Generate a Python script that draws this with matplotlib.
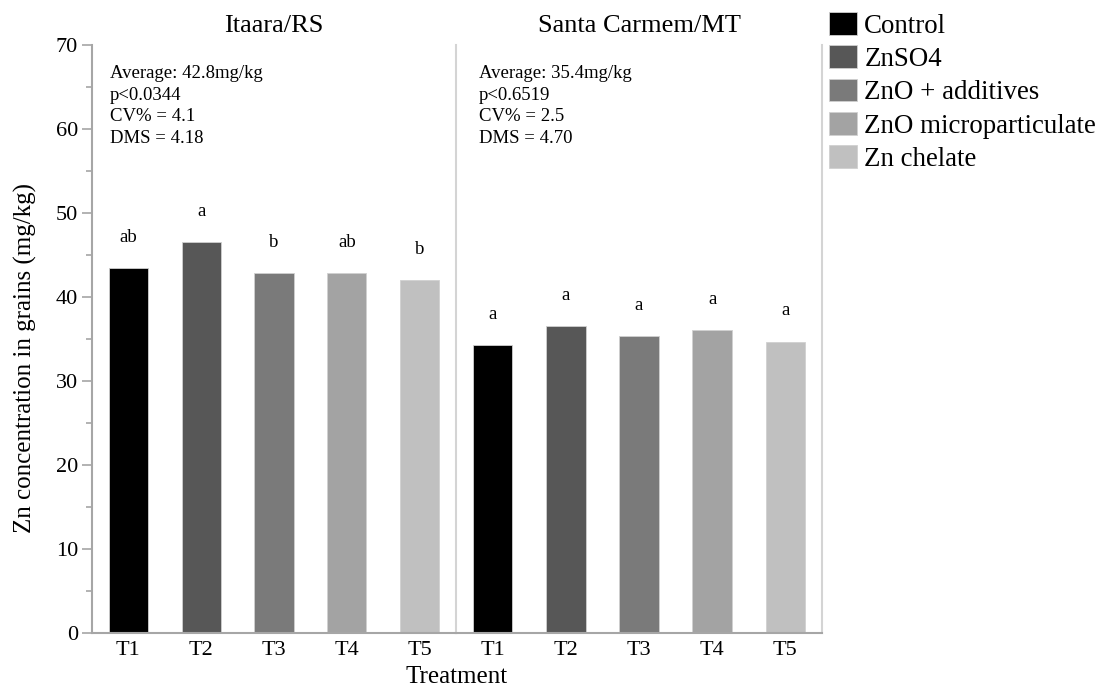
import matplotlib
matplotlib.use("Agg")
import matplotlib.pyplot as plt
from matplotlib.patches import Patch
from matplotlib.ticker import MultipleLocator

plt.rcParams['font.family'] = ['Liberation Serif', 'DejaVu Serif']

treatments = ["T1", "T2", "T3", "T4", "T5"]
legend_labels = ["Control", "ZnSO4", "ZnO + additives", "ZnO microparticulate", "Zn chelate"]
colors = ["#000000", "#575757", "#7a7a7a", "#a3a3a3", "#c0c0c0"]

sites = ["Itaara/RS", "Santa Carmem/MT"]
itaara_values = [43.5, 46.5, 42.8, 42.8, 42.0]
carmem_values = [34.3, 36.5, 35.4, 36.1, 34.7]
itaara_letters = ["ab", "a", "b", "ab", "b"]
carmem_letters = ["a", "a", "a", "a", "a"]
itaara_stats = "Average: 42.8mg/kg\np<0.0344\nCV% = 4.1\nDMS = 4.18"
carmem_stats = "Average: 35.4mg/kg\np<0.6519\nCV% = 2.5\nDMS = 4.70"

W, H = 1098, 688
fig = plt.figure(figsize=(W / 100, H / 100), dpi=100)

left, right, top, bottom = 92, 822, 45, 633
mid = 456
ax1 = fig.add_axes([left / W, 1 - bottom / H, (mid - left) / W, (bottom - top) / H])
ax2 = fig.add_axes([mid / W, 1 - bottom / H, (right - mid) / W, (bottom - top) / H], sharey=ax1)

spine_gray = "#a6a6a6"
sep_gray = "#d4d4d4"

panels = [
    (ax1, sites[0], itaara_values, itaara_letters, itaara_stats, 0.05),
    (ax2, sites[1], carmem_values, carmem_letters, carmem_stats, 0.063),
]
x = list(range(len(treatments)))
for ax, site, vals, letters, stats, tx in panels:
    ax.bar(x, vals, width=0.54, color=colors, edgecolor="#d0d0d0", linewidth=0.6)
    for xi, v, l in zip(x, vals, letters):
        ax.annotate(l, (xi, v), xytext=(0, 22), textcoords="offset points",
                    ha="center", va="center", fontsize=13.5)
    ax.set_xlim(-0.5, 4.5)
    ax.set_xticks(x)
    ax.set_xticklabels(treatments, fontsize=16)
    ax.tick_params(axis="x", length=0, pad=6)
    ax.set_title(site, fontsize=19, pad=9)
    ax.text(tx, 0.966, stats, transform=ax.transAxes, ha="left", va="top",
            fontsize=13.5, linespacing=1.36)
    ax.spines["top"].set_visible(False)
    ax.spines["bottom"].set_color(spine_gray)
    ax.spines["bottom"].set_linewidth(1.5)

ax1.set_ylim(0, 70)
ax1.yaxis.set_major_locator(MultipleLocator(10))
ax1.yaxis.set_minor_locator(MultipleLocator(5))
ax1.tick_params(axis="y", which="major", length=7, width=1.2, color=spine_gray, labelsize=16, pad=3)
ax1.tick_params(axis="y", which="minor", length=4, width=1.2, color=spine_gray)
ax1.spines["left"].set_color(spine_gray)
ax1.spines["left"].set_linewidth(1.5)
ax1.spines["right"].set_visible(False)

ax2.tick_params(axis="y", which="both", left=False, labelleft=False)
ax2.spines["left"].set_color(sep_gray)
ax2.spines["left"].set_linewidth(1.5)
ax2.spines["right"].set_color(sep_gray)
ax2.spines["right"].set_linewidth(1.5)

fig.text(25 / W, 1 - 358 / H, "Zn concentration in grains (mg/kg)", rotation=90,
         ha="center", va="center", fontsize=18)
fig.text((left + right) / 2 / W, 1 - 677 / H, "Treatment", ha="center", va="center", fontsize=18)

handles = [Patch(facecolor=c, edgecolor="#d0d0d0", linewidth=0.6) for c in colors]
fig.legend(handles, legend_labels, loc="upper left", bbox_to_anchor=(829 / W, 1 - 12 / H),
           frameon=False, fontsize=19.4, borderpad=0, handlelength=1.04, handleheight=0.93,
           handletextpad=0.27, labelspacing=0.243, borderaxespad=0)

fig.savefig("out.png", dpi=100)
